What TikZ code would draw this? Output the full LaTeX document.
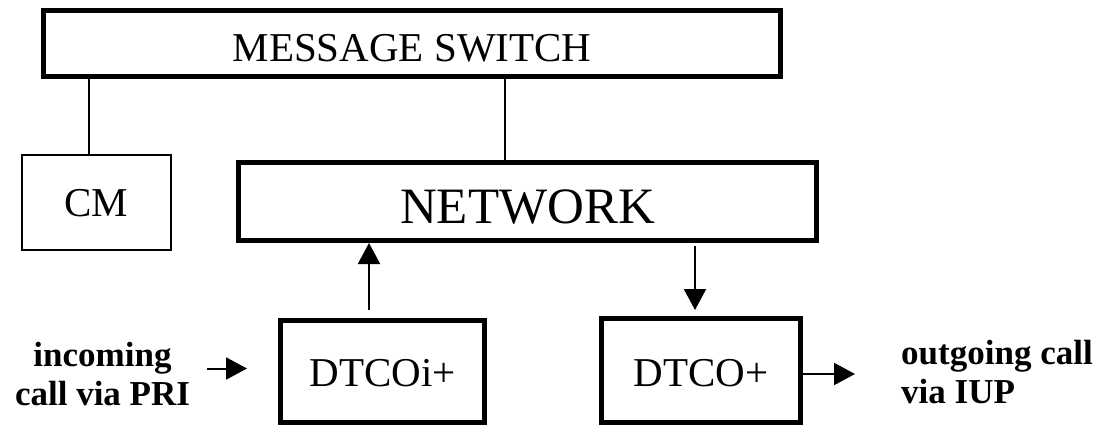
\documentclass[tikz,border=0pt]{standalone}
\usepackage{fontspec}
\setmainfont{Liberation Serif}
\usetikzlibrary{arrows.meta}

\tikzset{
  thickbox/.style={draw, line width=5pt, rectangle, inner sep=0pt, text depth=0pt},
  thinbox/.style={draw, line width=2pt, rectangle, inner sep=0pt, text depth=0pt},
  link/.style={line width=2pt},
  arr/.style={line width=2pt, -{Triangle[length=21pt,width=22pt]}},
  boxfont/.style={font=\fontsize{41}{49}\selectfont},
  bigfont/.style={font=\fontsize{51}{61}\selectfont},
  callfont/.style={font=\fontsize{35}{39}\selectfont\bfseries},
}

\begin{document}
\begin{tikzpicture}[x=1pt,y=-1pt]
  \useasboundingbox (0,0) rectangle (1107,428);

  % blocks
  \node[thickbox, boxfont, minimum width=737pt, minimum height=66pt, text height=35pt]
    (ms) at (412,43.5) {MESSAGE SWITCH};
  \node[thinbox, boxfont, minimum width=149pt, minimum height=95pt]
    (cm) at (96,202.5) {CM};
  \node[thickbox, bigfont, minimum width=578pt, minimum height=78pt, text height=43pt]
    (net) at (527.5,201.5) {NETWORK};
  \node[thickbox, boxfont, minimum width=204pt, minimum height=102pt, text height=30.5pt]
    (dtcoi) at (382.5,371.5) {DTCOi+};
  \node[thickbox, boxfont, minimum width=199pt, minimum height=104pt, text height=32pt]
    (dtco) at (701,370.5) {DTCO+};

  % call labels (base anchor sits on the last line)
  \node[callfont, align=center, anchor=base, inner sep=0pt]
    (inc) at (102.5,405) {incoming\\call via PRI};
  \node[callfont, align=left, anchor=base west, inner sep=0pt]
    (out) at (901,403.3) {outgoing call\\via IUP};

  % connector columns
  \coordinate (cmx) at (89,0);
  \coordinate (msx) at (505,0);
  \coordinate (upx) at (369,0);
  \coordinate (dnx) at (695,0);

  \draw[link] (cmx |- cm.north) -- (cmx |- ms.south);
  \draw[link] (msx |- ms.south) -- (msx |- net.north);
  \draw[arr, shorten <=8pt] (upx |- dtcoi.north) -- (upx |- net.south);
  \draw[arr, shorten <=3pt, shorten >=6pt] (dnx |- net.south) -- (dnx |- dtco.north);

  % call flow in and out
  \draw[arr] ([xshift=-71pt,yshift=3pt]dtcoi.west) -- ([xshift=-31pt,yshift=3pt]dtcoi.west);
  \coordinate (outtip) at ([xshift=52pt,yshift=-3.5pt]dtco.east);
  \draw[arr] ([yshift=-3.5pt]dtco.east) -- (outtip);
\end{tikzpicture}
\end{document}
